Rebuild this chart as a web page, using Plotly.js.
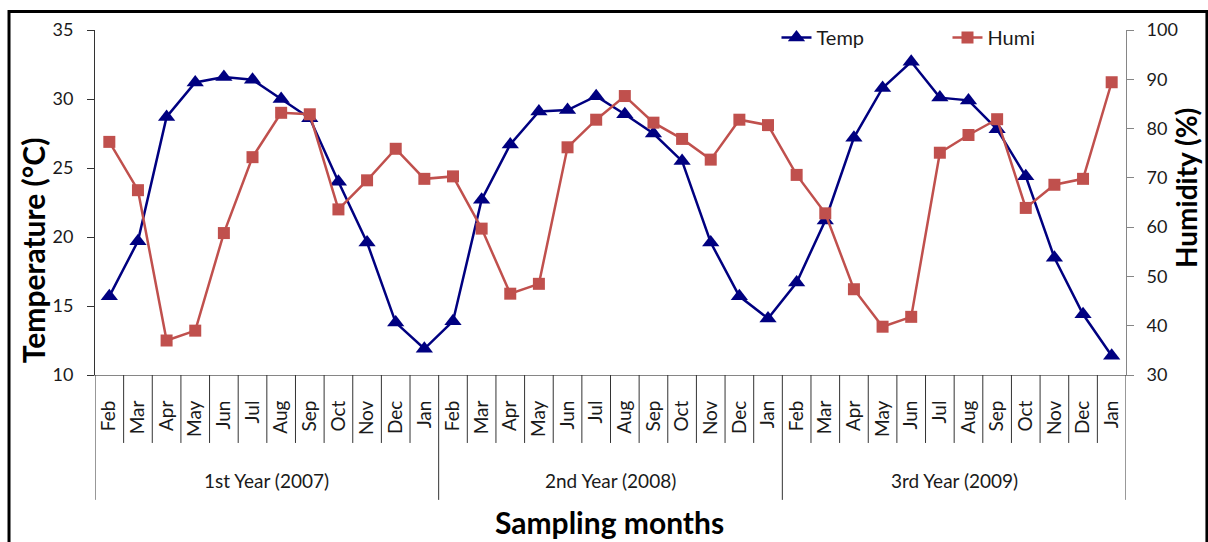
<!DOCTYPE html>
<html><head><meta charset="utf-8">
<script src="https://cdn.plot.ly/plotly-3.0.1.min.js"></script>
<style>html,body{margin:0;padding:0;background:#fff}</style>
</head><body><div id="chart" style="width:1208px;height:542px"></div>
<script>
const years = ['1st Year (2007)', '2nd Year (2008)', '3rd Year (2009)'];
const months = ['Feb','Mar','Apr','May','Jun','Jul','Aug','Sep','Oct','Nov','Dec','Jan'];
const temp2007 = [15.7, 19.7, 28.7, 31.2, 31.6, 31.4, 30.0, 28.6, 24.0, 19.6, 13.8, 11.9];
const temp2008 = [13.9, 22.7, 26.7, 29.1, 29.2, 30.2, 28.9, 27.5, 25.5, 19.6, 15.7, 14.1];
const temp2009 = [16.7, 21.2, 27.2, 30.8, 32.7, 30.1, 29.9, 27.8, 24.4, 18.5, 14.4, 11.4];
const humi2007 = [77.3, 67.5, 37.0, 39.0, 58.8, 74.2, 83.2, 82.9, 63.6, 69.5, 75.9, 69.8];
const humi2008 = [70.3, 59.7, 46.5, 48.5, 76.2, 81.8, 86.6, 81.2, 77.9, 73.7, 81.8, 80.7];
const humi2009 = [70.6, 62.8, 47.4, 39.8, 41.8, 75.1, 78.7, 81.9, 63.9, 68.6, 69.8, 89.4];
const xTitle = 'Sampling months';
const yTitle = 'Temperature (°C)';
const y2Title = 'Humidity (%)';

const temp = [].concat(temp2007, temp2008, temp2009);
const humi = [].concat(humi2007, humi2008, humi2009);
const labels = [].concat(months, months, months);
const xs = labels.map((_, i) => i);
const n = labels.length;
const per = months.length;

const FONT = 'Lato, "Noto Sans", sans-serif';
const TXT = '#1a1a1a';
const TITLEFONT = {family: FONT, size: 30, weight: 700, color: '#000'};

const traces = [
  {x: xs, y: temp, name: 'Temp', type: 'scatter', mode: 'lines+markers', yaxis: 'y',
   line: {color: '#000080', width: 2.5},
   marker: {symbol: 'triangle-up', size: 15, color: '#000080'}},
  {x: xs, y: humi, name: 'Humi', type: 'scatter', mode: 'lines+markers', yaxis: 'y2',
   line: {color: '#C0504D', width: 2.5},
   marker: {symbol: 'square', size: 12, color: '#C0504D'}}
];

const shapes = [];
for (let i = 0; i <= n; i++) {
  const isYear = (i % per === 0);
  shapes.push({type: 'line', xref: 'x', yref: 'paper', x0: i - 0.5, x1: i - 0.5,
    y0: 0, y1: isYear ? -0.362 : -0.197,
    line: {color: '#333333', width: 1}});
}
// outer frame
shapes.push({type: 'rect', xref: 'paper', yref: 'paper', x0: -0.0834, x1: 1.0785, y0: -0.7, y1: 1.0536,
  line: {color: '#000000', width: 3}});

const annotations = years.map((yr, k) => ({
  text: yr, xref: 'x', yref: 'paper', x: k * per + (per - 1) / 2, y: -0.307,
  showarrow: false, font: {family: FONT, size: 19, color: TXT}, yanchor: 'middle'
}));
annotations.push(
  {text: xTitle, xref: 'paper', yref: 'paper', x: 0.4995, y: -0.426, showarrow: false,
   font: TITLEFONT, xanchor: 'center', yanchor: 'middle'},
  {text: yTitle, xref: 'paper', yref: 'paper', x: -0.0601, y: 0.362, showarrow: false,
   font: TITLEFONT, textangle: -90, xanchor: 'center', yanchor: 'middle'},
  {text: y2Title, xref: 'paper', yref: 'paper', x: 1.0582, y: 0.542, showarrow: false,
   font: {family: FONT, size: 28, weight: 700, color: '#000'}, textangle: -90, xanchor: 'center', yanchor: 'middle'}
);

const layout = {
  width: 1208, height: 542,
  margin: {l: 95, r: 82, t: 30, b: 167},
  paper_bgcolor: '#ffffff', plot_bgcolor: '#ffffff',
  font: {family: FONT, size: 18, color: TXT},
  showlegend: true,
  legend: {orientation: 'h', x: 0.661, y: 1.035, xanchor: 'left', yanchor: 'top',
    font: {family: FONT, size: 20, color: TXT}, entrywidth: 126, entrywidthmode: 'pixels',
    bgcolor: 'rgba(0,0,0,0)'},
  xaxis: {
    range: [-0.5, n - 0.5], tickmode: 'array', tickvals: xs, ticktext: labels,
    tickangle: -90, ticks: '', showgrid: false, zeroline: false,
    showline: true, linecolor: '#868686', linewidth: 1,
    ticklabelstandoff: 17, tickfont: {family: FONT, size: 19, color: TXT}
  },
  yaxis: {
    range: [10, 35], dtick: 5, tick0: 10, ticks: 'outside', ticklen: 7, tickcolor: '#333',
    showline: true, linecolor: '#333', linewidth: 1, showgrid: false, zeroline: false,
    ticklabelstandoff: 10, tickfont: {family: FONT, size: 18, color: TXT}
  },
  yaxis2: {
    range: [30, 100], dtick: 10, tick0: 30, overlaying: 'y', side: 'right',
    ticks: 'outside', ticklen: 7, tickcolor: '#868686',
    showline: true, linecolor: '#868686', linewidth: 1, showgrid: false, zeroline: false,
    ticklabelstandoff: 9, tickfont: {family: FONT, size: 18, color: TXT}
  },
  shapes: shapes,
  annotations: annotations
};

Plotly.newPlot('chart', traces, layout, {displayModeBar: false, staticPlot: true});
</script></body></html>
